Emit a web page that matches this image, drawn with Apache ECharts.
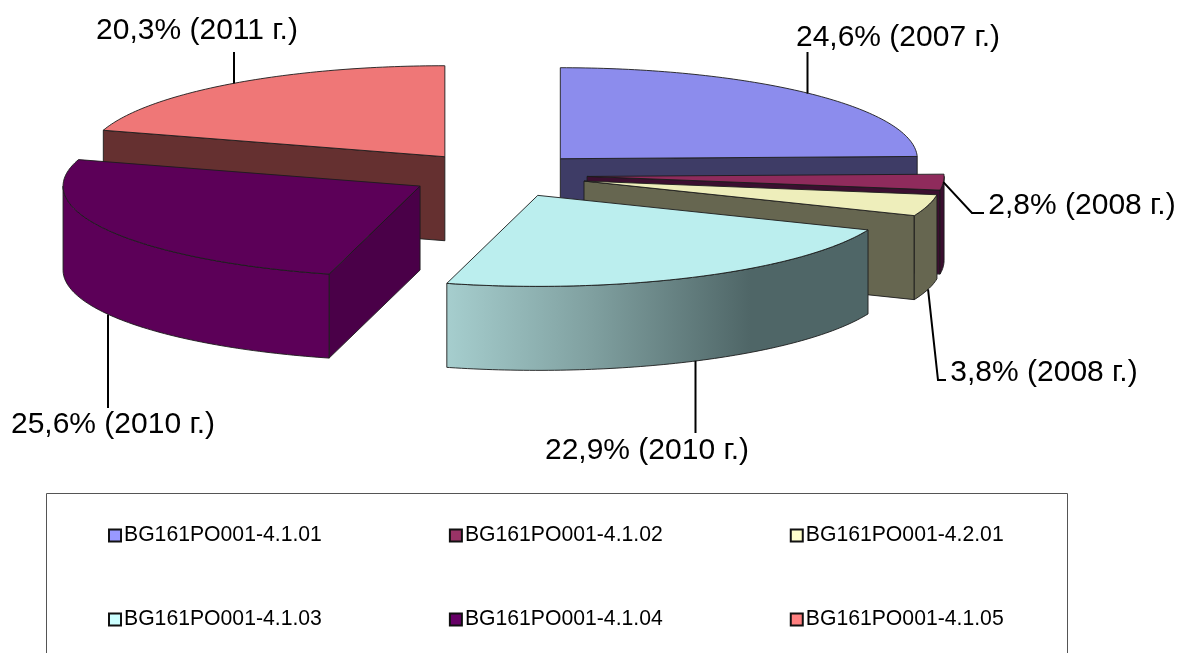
<!DOCTYPE html>
<html>
<head>
<meta charset="utf-8">
<style type="text/css">
html, body { margin: 0; padding: 0; background: #fff; }
#main { width: 1180px; height: 653px; }
</style>
<script src="https://cdn.jsdelivr.net/npm/echarts@6/dist/echarts.min.js"></script>
</head>
<body>
<div id="main"></div>
<script>
// data
var sliceNames = ['BG161PO001-4.1.01', 'BG161PO001-4.1.02', 'BG161PO001-4.2.01', 'BG161PO001-4.1.03', 'BG161PO001-4.1.04', 'BG161PO001-4.1.05'];
var shares = [24.6, 2.8, 3.8, 22.9, 25.6, 20.3];
var shareLabels = ['24,6% (2007 г.)', '2,8% (2008 г.)', '3,8% (2008 г.)', '22,9% (2010 г.)', '25,6% (2010 г.)', '20,3% (2011 г.)'];

// colours
var swatchColors = ['#9999ff', '#993366', '#ffffcc', '#ccffff', '#660066', '#ff8080'];
var topColors = ['#8c8ced', '#8f2b5c', '#eeeebb', '#bbeeee', '#5c0058', '#ef7777'];
var radialColors = ['#3e3c66', '#3b0f30', '#666650', '#4f6667', '#4a0048', '#653030'];
var rimColors = ['#3e3c66', '#3b0f30', '#666650', null, '#5c0058', '#653030'];

// layout of the pie
var pie = { cx: 498, cy: 175, rx: 357, ry: 91, depth: 84, explode: 0.25 };
var drawOrder = [5, 4, 0, 1, 2, 3];
var labelCentres = [[898, 38], [1082, 206], [1044, 373], [647, 451], [113, 425], [197, 31]];
var leaderBends = [[[807.5, 52]], [[972, 213], [984, 213]], [[938, 380], [946, 380]], [[695.5, 433]], [[108, 408]], [[234, 52]]];

// start and end angle of each slice, clockwise from the top
var angles = [];
var total = 0;
shares.forEach(function(v) {
    angles.push([total / 100 * 360, (total + v) / 100 * 360]);
    total += v;
});

function rad(a) {
    return a * Math.PI / 180;
}

function rimPoint(c, a, down) {
    return [c[0] + pie.rx * Math.sin(rad(a)), c[1] - pie.ry * Math.cos(rad(a)) + (down || 0)];
}

function arcPoints(c, a0, a1, down) {
    var pts = [];
    for (var a = a0; a < a1; a += 1) {
        pts.push(rimPoint(c, a, down));
    }
    pts.push(rimPoint(c, a1, down));
    return pts;
}

function face(points, fill) {
    return {
        type: 'polygon',
        shape: { points: points },
        style: { fill: fill, stroke: '#1c1c1c', lineWidth: 0.9 }
    };
}

function radialFace(c, a, fill) {
    var rim = rimPoint(c, a);
    return face([c, rim, [rim[0], rim[1] + pie.depth], [c[0], c[1] + pie.depth]], fill);
}

function rimFill(i) {
    if (rimColors[i]) {
        return rimColors[i];
    }
    return new echarts.graphic.LinearGradient(0, 0, 1, 0, [
        { offset: 0, color: '#a6cece' },
        { offset: 0.35, color: '#7f9f9f' },
        { offset: 0.72, color: '#4f6667' },
        { offset: 1, color: '#4f6667' }
    ]);
}

function renderSlice(i) {
    return function(params, api) {
        var a0 = api.value(0);
        var a1 = api.value(1);
        var mid = (a0 + a1) / 2;
        var c = [
            pie.cx + pie.explode * pie.rx * Math.sin(rad(mid)),
            pie.cy - pie.explode * pie.ry * Math.cos(rad(mid))
        ];
        var children = [];

        if (Math.sin(rad(a1)) > 0.01) {
            children.push(radialFace(c, a1, radialColors[i]));
        }
        if (Math.sin(rad(a0)) < -0.01) {
            children.push(radialFace(c, a0, radialColors[i]));
        }
        var s0 = Math.max(a0, 90);
        var s1 = Math.min(a1, 270);
        if (s1 > s0) {
            var side = arcPoints(c, s0, s1).concat(arcPoints(c, s0, s1, pie.depth).reverse());
            children.push(face(side, rimFill(i)));
        }
        children.push(face([c].concat(arcPoints(c, a0, a1)), topColors[i]));

        // the thin 2008 slice has its leader on the top face, the others at the rim when they face us
        var onFront = mid > 100 && mid < 270;
        var start = rimPoint(c, mid, onFront ? pie.depth : 0);
        var bends = leaderBends[i];
        if (bends.length === 1) {
            // single bend means a straight vertical leader
            start[0] = bends[0][0];
        }
        children.push({
            type: 'polyline',
            shape: { points: [start].concat(bends) },
            style: { fill: null, stroke: '#000', lineWidth: 2 }
        });
        children.push({
            type: 'text',
            style: {
                text: shareLabels[i],
                x: labelCentres[i][0],
                y: labelCentres[i][1],
                align: 'center',
                verticalAlign: 'middle',
                fill: '#000',
                font: '30px "Liberation Sans", Arial, sans-serif'
            }
        });
        return { type: 'group', children: children };
    };
}

function legendRow(from, top) {
    return {
        left: 103,
        top: top,
        itemWidth: 12,
        itemHeight: 12,
        itemGap: 127,
        icon: 'rect',
        selectedMode: false,
        textStyle: { fontFamily: '"Liberation Sans", Arial, sans-serif', fontSize: 21.2, color: '#000', padding: [0, 0, 0, -2] },
        data: [from, from + 1, from + 2].map(function(i) {
            return {
                name: sliceNames[i],
                itemStyle: { color: swatchColors[i], borderColor: '#111', borderWidth: 2 }
            };
        })
    };
}

var charts = echarts.init(document.getElementById('main'));
var option = {
    backgroundColor: '#fff',
    animation: false,
    graphic: [{
        type: 'rect',
        silent: true,
        shape: { x: 46.5, y: 493.5, width: 1021, height: 220 },
        style: { fill: '#fff', stroke: '#555', lineWidth: 1 }
    }],
    legend: [legendRow(0, 520), legendRow(3, 604)],
    series: drawOrder.map(function(i) {
        return {
            type: 'custom',
            name: sliceNames[i],
            coordinateSystem: 'none',
            silent: true,
            renderItem: renderSlice(i),
            data: [angles[i]]
        };
    })
};
charts.setOption(option);
</script>
</body>
</html>
